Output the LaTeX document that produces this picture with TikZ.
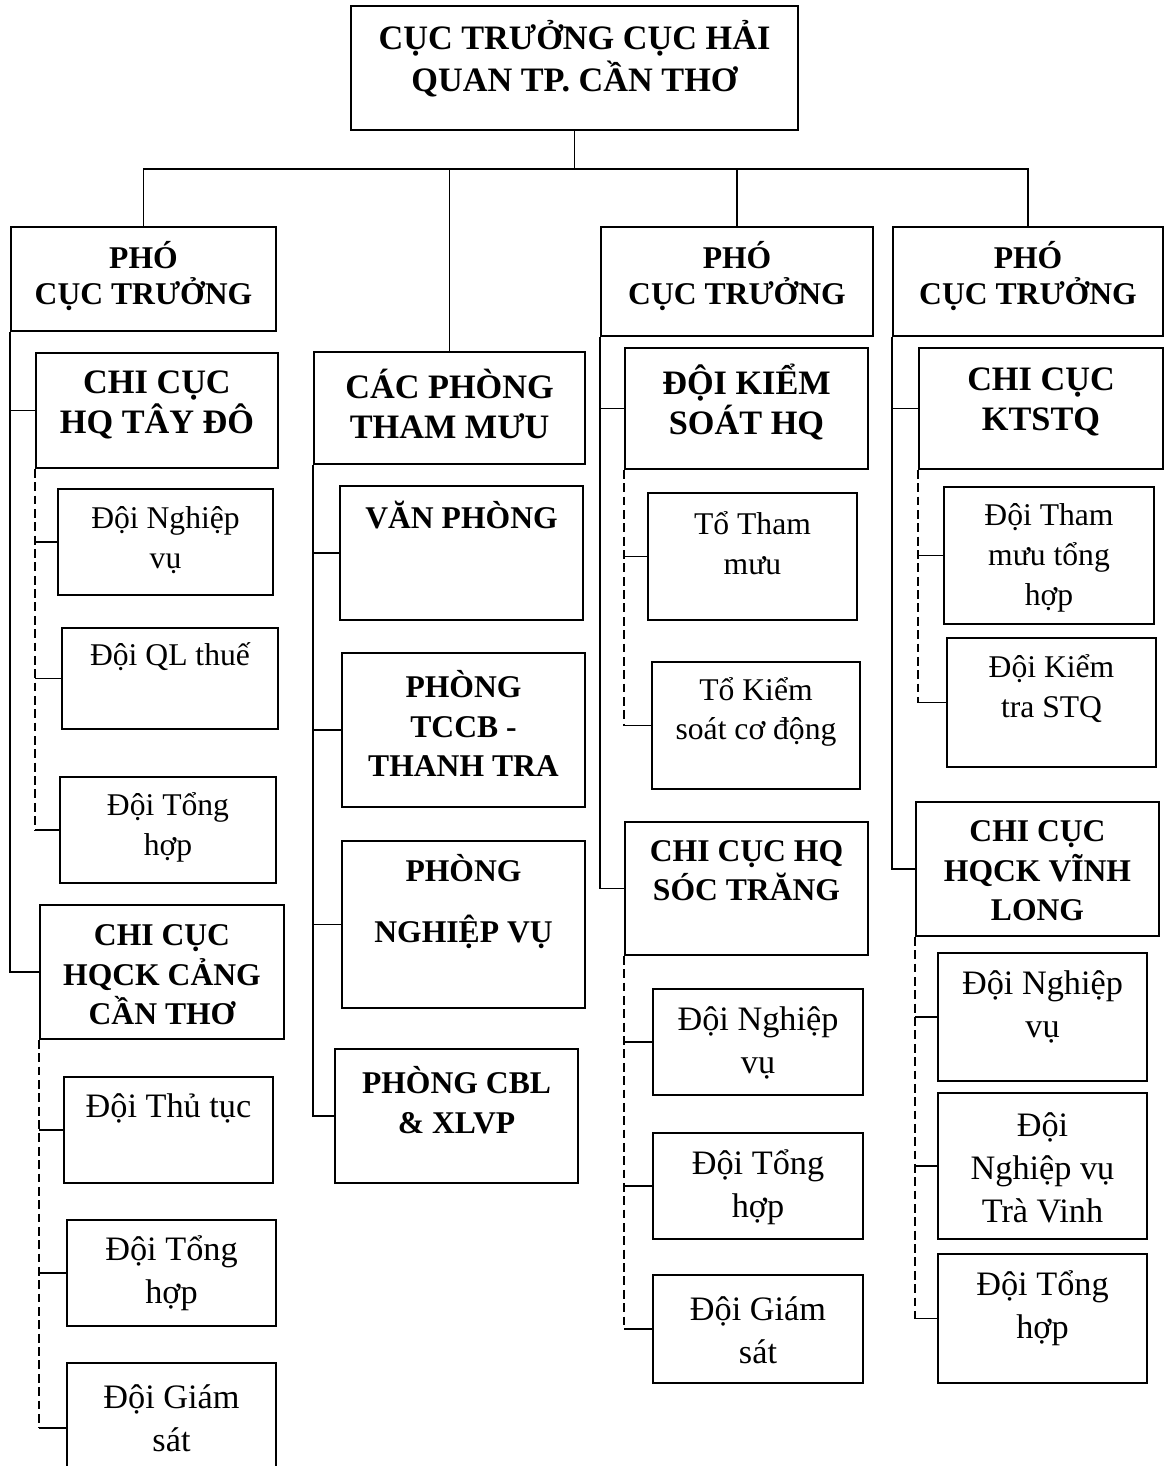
\documentclass[tikz,border=0pt]{standalone}
\usepackage{fontspec}
\setmainfont{Liberation Serif}
\usetikzlibrary{fit}

\begin{document}
\begin{tikzpicture}[
  x=0.02cm, y=-0.02cm,
  unit/.style={draw, line width=1.1pt, inner sep=0pt},
  headbig/.style={font=\fontsize{19.5}{23}\selectfont\bfseries, align=center, inner sep=0pt},
  headsmall/.style={font=\fontsize{18}{22.5}\selectfont\bfseries, align=center, inner sep=0pt},
  deputy/.style={font=\fontsize{18}{20.5}\selectfont\bfseries, align=center, inner sep=0pt},
  txtsmall/.style={font=\fontsize{18}{22.7}\selectfont, align=center, inner sep=0pt},
  txtbig/.style={font=\fontsize{19.5}{24.5}\selectfont, align=center, inner sep=0pt},
  link/.style={line width=1pt},
  sublink/.style={line width=1pt, dash pattern=on 5pt off 2.6pt}
]
  \useasboundingbox (0,0) rectangle (1164,1466);
  \clip (0,0) rectangle (1164,1466);

  % top level
  \node[unit, fit={(351,6) (798,130)}] (top) {};
  \node[headbig, font=\fontsize{19.5}{23.8}\selectfont\bfseries] (topt) at (574.5,59) {CỤC TRƯỞNG CỤC HẢI\\QUAN TP. CẦN THƠ};

  \node[unit, fit={(11,227) (276,331)}] (p1) {};
  \node[deputy] (p1t) at (143.5,276) {PHÓ\\CỤC TRƯỞNG};
  \node[unit, fit={(314,352) (585,464)}] (cp) {};
  \node[headbig] (cpt) at (449.5,404) {CÁC PHÒNG\\THAM MƯU};
  \node[unit, fit={(601,227) (873,336)}] (p3) {};
  \node[deputy] (p3t) at (737,276) {PHÓ\\CỤC TRƯỞNG};
  \node[unit, fit={(893,227) (1163,336)}] (p4) {};
  \node[deputy] (p4t) at (1028,276) {PHÓ\\CỤC TRƯỞNG};

  % column 1
  \node[unit, fit={(36,353) (278,468)}] (td) {};
  \node[headbig] (tdt) at (157,405) {CHI CỤC\\HQ TÂY ĐÔ};
  \node[unit, fit={(58,489) (273,595)}] (nv1) {};
  \node[txtsmall] (nv1t) at (165.5,540) {Đội Nghiệp\\vụ};
  \node[unit, fit={(62,628) (278,729)}] (ql) {};
  \node[txtsmall] (qlt) at (170,657) {Đội QL thuế};
  \node[unit, fit={(60,777) (276,883)}] (th1) {};
  \node[txtsmall] (th1t) at (168,827) {Đội Tổng\\hợp};
  \node[unit, fit={(40,905) (284,1039)}] (cang) {};
  \node[headsmall] (cangt) at (162,975) {CHI CỤC\\HQCK CẢNG\\CẦN THƠ};
  \node[unit, fit={(64,1077) (273,1183)}] (tt) {};
  \node[txtbig] (ttt) at (168.5,1108) {Đội Thủ tục};
  \node[unit, fit={(67,1220) (276,1326)}] (th2) {};
  \node[txtbig] (th2t) at (171.5,1273) {Đội Tổng\\hợp};
  \node[unit, fit={(67,1363) (276,1493)}] (gs1) {};
  \node[txtbig] (gs1t) at (171.5,1418) {Đội Giám\\sát};

  % column 2
  \node[unit, fit={(340,486) (583,620)}] (vp) {};
  \node[headsmall] (vpt) at (461.5,515) {VĂN PHÒNG};
  \node[unit, fit={(342,653) (585,807)}] (tccb) {};
  \node[headsmall] (tccbt) at (463.5,723.5) {PHÒNG\\TCCB -\\THANH TRA};
  \node[unit, fit={(342,841) (585,1008)}] (nvu) {};
  \node[headsmall] (nvut) at (463.5,901.5) {PHÒNG\\[12pt]NGHIỆP VỤ};
  \node[unit, fit={(335,1049) (578,1183)}] (cbl) {};
  \node[headsmall] (cblt) at (456.5,1100) {PHÒNG CBL\\\& XLVP};

  % column 3
  \node[unit, fit={(625,348) (868,469)}] (ks) {};
  \node[headbig] (kst) at (746.5,402) {ĐỘI KIỂM\\SOÁT HQ};
  \node[unit, fit={(648,493) (857,620)}] (tm) {};
  \node[txtsmall] (tmt) at (752.5,543) {Tổ Tham\\mưu};
  \node[unit, fit={(652,662) (860,789)}] (ksd) {};
  \node[txtsmall] (ksdt) at (756,712) {Tổ Kiểm\\soát cơ động};
  \node[unit, fit={(625,822) (868,955)}] (st) {};
  \node[headsmall] (stt) at (746.5,870.5) {CHI CỤC HQ\\SÓC TRĂNG};
  \node[unit, fit={(653,989) (863,1095)}] (nv3) {};
  \node[txtbig] (nv3t) at (758,1043) {Đội Nghiệp\\vụ};
  \node[unit, fit={(653,1133) (863,1239)}] (th3) {};
  \node[txtbig] (th3t) at (758,1187) {Đội Tổng\\hợp};
  \node[unit, fit={(653,1275) (863,1383)}] (gs3) {};
  \node[txtbig] (gs3t) at (758,1330) {Đội Giám\\sát};

  % column 4
  \node[unit, fit={(919,348) (1163,469)}] (kt) {};
  \node[headbig] (ktt) at (1041,402) {CHI CỤC\\KTSTQ};
  \node[unit, fit={(944,487) (1154,624)}] (tmth) {};
  \node[txtsmall] (tmtht) at (1049,558) {Đội Tham\\mưu tổng\\hợp};
  \node[unit, fit={(947,638) (1156,767)}] (ktstq) {};
  \node[txtsmall] (ktstqt) at (1051.5,689) {Đội Kiểm\\tra STQ};
  \node[unit, fit={(916,802) (1159,936)}] (vl) {};
  \node[headsmall] (vlt) at (1037.5,871) {CHI CỤC\\HQCK VĨNH\\LONG};
  \node[unit, fit={(938,953) (1147,1081)}] (nv4) {};
  \node[txtbig] (nv4t) at (1042.5,1006.5) {Đội Nghiệp\\vụ};
  \node[unit, fit={(938,1093) (1147,1239)}] (tv) {};
  \node[txtbig] (tvt) at (1042.5,1168) {Đội\\Nghiệp vụ\\Trà Vinh};
  \node[unit, fit={(938,1254) (1147,1383)}] (th4) {};
  \node[txtbig] (th4t) at (1042.5,1308.5) {Đội Tổng\\hợp};

  % connectors
  \draw[link] (top.south) -- ++(0,38) coordinate (bus);
  \foreach \n in {p1,cp,p3,p4}
    \draw[link] (bus) -| (\n.north);

  \draw[link] (p1.south west) |- (td.west);
  \draw[link] (p1.south west) |- (cang.west);
  \draw[sublink] (td.south west) -- (td.south west |- th1.west);
  \foreach \n in {nv1,ql,th1}
    \draw[link] (td.south west |- \n.west) -- (\n.west);
  \draw[sublink] (cang.south west) -- (cang.south west |- gs1.west);
  \foreach \n in {tt,th2,gs1}
    \draw[link] (cang.south west |- \n.west) -- (\n.west);

  \draw[link] (cp.south west) |- (cbl.west);
  \foreach \n in {vp,tccb,nvu}
    \draw[link] (cp.south west |- \n.west) -- (\n.west);

  \draw[link] (p3.south west) |- (ks.west);
  \draw[link] (p3.south west) |- (st.west);
  \draw[sublink] (ks.south west) -- (ks.south west |- ksd.west);
  \foreach \n in {tm,ksd}
    \draw[link] (ks.south west |- \n.west) -- (\n.west);
  \draw[sublink] (st.south west) -- (st.south west |- gs3.west);
  \foreach \n in {nv3,th3,gs3}
    \draw[link] (st.south west |- \n.west) -- (\n.west);

  \draw[link] (p4.south west) |- (kt.west);
  \draw[link] (p4.south west) |- (vl.west);
  \draw[sublink] (kt.south west) -- (kt.south west |- ktstq.west);
  \foreach \n in {tmth,ktstq}
    \draw[link] (kt.south west |- \n.west) -- (\n.west);
  \draw[sublink] (vl.south west) -- (vl.south west |- th4.west);
  \foreach \n in {nv4,tv,th4}
    \draw[link] (vl.south west |- \n.west) -- (\n.west);
\end{tikzpicture}
\end{document}
